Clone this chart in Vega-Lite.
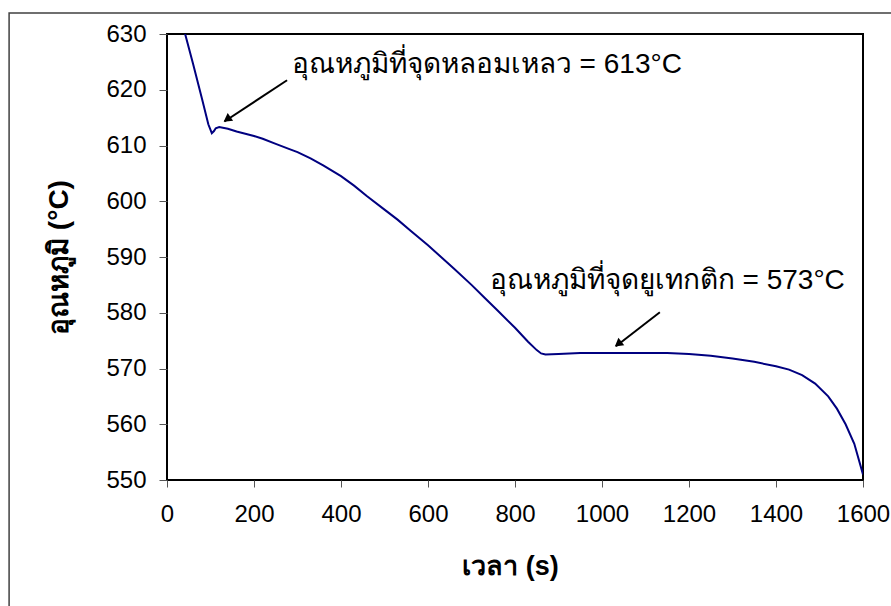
{
  "$schema": "https://vega.github.io/schema/vega-lite/v6.json",
  "autosize": {"type": "none"},
  "width": 696,
  "height": 446,
  "padding": {"left": 167, "top": 34, "right": 28, "bottom": 126},
  "background": "white",
  "config": {
    "view": {"stroke": "black", "strokeWidth": 2},
    "font": "Liberation Sans"
  },
  "layer": [
    {
      "data": {"values": [{}]},
      "mark": {"type": "rect", "fill": null, "fillOpacity": 0, "stroke": "#404040", "strokeWidth": 1.5, "clip": false},
      "encoding": {
        "x": {"datum": -363, "type": "quantitative"},
        "x2": {"datum": 2600},
        "y": {"datum": 633.77, "type": "quantitative"},
        "y2": {"datum": 480}
      }
    },
    {
      "data": {
        "values": [
          {"t": 0, "T": 642}, {"t": 20, "T": 636.5}, {"t": 40, "T": 630.5}, {"t": 60, "T": 624.6},
          {"t": 80, "T": 618.5}, {"t": 95, "T": 613.8}, {"t": 103, "T": 612.2}, {"t": 108, "T": 612.6},
          {"t": 112, "T": 613.1}, {"t": 120, "T": 613.3}, {"t": 140, "T": 613.0}, {"t": 160, "T": 612.5},
          {"t": 180, "T": 612.1}, {"t": 200, "T": 611.7}, {"t": 220, "T": 611.2}, {"t": 250, "T": 610.3},
          {"t": 280, "T": 609.4}, {"t": 300, "T": 608.8}, {"t": 330, "T": 607.7}, {"t": 360, "T": 606.4},
          {"t": 400, "T": 604.5}, {"t": 430, "T": 602.8}, {"t": 460, "T": 600.9}, {"t": 500, "T": 598.5},
          {"t": 530, "T": 596.7}, {"t": 560, "T": 594.7}, {"t": 600, "T": 592.1}, {"t": 630, "T": 590.0},
          {"t": 660, "T": 587.9}, {"t": 700, "T": 585.0}, {"t": 730, "T": 582.7}, {"t": 760, "T": 580.4},
          {"t": 800, "T": 577.3}, {"t": 830, "T": 574.8}, {"t": 850, "T": 573.3}, {"t": 860, "T": 572.7},
          {"t": 870, "T": 572.5}, {"t": 900, "T": 572.6}, {"t": 950, "T": 572.8}, {"t": 1000, "T": 572.8},
          {"t": 1100, "T": 572.8}, {"t": 1150, "T": 572.8}, {"t": 1200, "T": 572.6}, {"t": 1250, "T": 572.3},
          {"t": 1300, "T": 571.8}, {"t": 1350, "T": 571.2}, {"t": 1400, "T": 570.4}, {"t": 1430, "T": 569.8},
          {"t": 1460, "T": 568.8}, {"t": 1490, "T": 567.3}, {"t": 1520, "T": 565.0}, {"t": 1540, "T": 562.8},
          {"t": 1560, "T": 560.0}, {"t": 1580, "T": 556.5}, {"t": 1600, "T": 551.0}
        ]
      },
      "mark": {"type": "line", "color": "#000080", "strokeWidth": 2, "clip": true},
      "encoding": {
        "x": {
          "field": "t", "type": "quantitative",
          "scale": {"domain": [0, 1600], "nice": false, "zero": false},
          "axis": {
            "values": [0, 200, 400, 600, 800, 1000, 1200, 1400, 1600],
            "format": "d",
            "grid": false, "domain": false,
            "tickColor": "#555", "tickSize": 7, "tickWidth": 1,
            "labelFont": "Liberation Sans", "labelFontSize": 24, "labelColor": "black",
            "labelPadding": 15, "labelFlush": false,
            "title": "เวลา (s)", "titleFontSize": 27, "titleFontWeight": "bold",
            "titleColor": "black", "titleX": 343, "titleY": 86, "titleBaseline": "middle"
          }
        },
        "y": {
          "field": "T", "type": "quantitative",
          "scale": {"domain": [550, 630], "nice": false, "zero": false},
          "axis": {
            "values": [550, 560, 570, 580, 590, 600, 610, 620, 630],
            "format": "d",
            "grid": false, "domain": false,
            "tickColor": "#555", "tickSize": 8, "tickWidth": 1,
            "labelFont": "Liberation Sans", "labelFontSize": 24, "labelColor": "black",
            "labelPadding": 13, "labelFlush": false,
            "title": "อุณหภูมิ (°C)", "titleFontSize": 28, "titleFontWeight": "bold",
            "titleColor": "black", "titleX": -108, "titleY": 223, "titleAngle": -90,
            "titleBaseline": "middle", "titleAlign": "center"
          }
        }
      }
    },
    {
      "data": {"values": [{}]},
      "mark": {"type": "rule", "color": "black", "strokeWidth": 2},
      "encoding": {
        "x": {"datum": 276, "type": "quantitative"},
        "y": {"datum": 621.7, "type": "quantitative"},
        "x2": {"datum": 132},
        "y2": {"datum": 614.3}
      }
    },
    {
      "data": {"values": [{}]},
      "mark": {"type": "point", "shape": "triangle-up", "filled": true, "color": "black", "size": 90, "angle": 235, "opacity": 1},
      "encoding": {
        "x": {"datum": 138, "type": "quantitative"},
        "y": {"datum": 614.7, "type": "quantitative"}
      }
    },
    {
      "data": {"values": [{}]},
      "mark": {"type": "rule", "color": "black", "strokeWidth": 2},
      "encoding": {
        "x": {"datum": 1133, "type": "quantitative"},
        "y": {"datum": 580.1, "type": "quantitative"},
        "x2": {"datum": 1032},
        "y2": {"datum": 574.0}
      }
    },
    {
      "data": {"values": [{}]},
      "mark": {"type": "point", "shape": "triangle-up", "filled": true, "color": "black", "size": 90, "angle": 232, "opacity": 1},
      "encoding": {
        "x": {"datum": 1037, "type": "quantitative"},
        "y": {"datum": 574.4, "type": "quantitative"}
      }
    },
    {
      "data": {"values": [{}]},
      "mark": {"type": "text", "text": "อุณหภูมิที่จุดหลอมเหลว = 613°C", "align": "left", "baseline": "alphabetic", "fontSize": 28, "fontWeight": "normal", "font": "Liberation Sans", "fill": "black"},
      "encoding": {
        "x": {"datum": 287, "type": "quantitative"},
        "y": {"datum": 623.0, "type": "quantitative"}
      }
    },
    {
      "data": {"values": [{}]},
      "mark": {"type": "text", "text": "อุณหภูมิที่จุดยูเทกติก = 573°C", "align": "left", "baseline": "alphabetic", "fontSize": 28, "fontWeight": "normal", "font": "Liberation Sans", "fill": "black"},
      "encoding": {
        "x": {"datum": 742, "type": "quantitative"},
        "y": {"datum": 584.3, "type": "quantitative"}
      }
    }
  ]
}
